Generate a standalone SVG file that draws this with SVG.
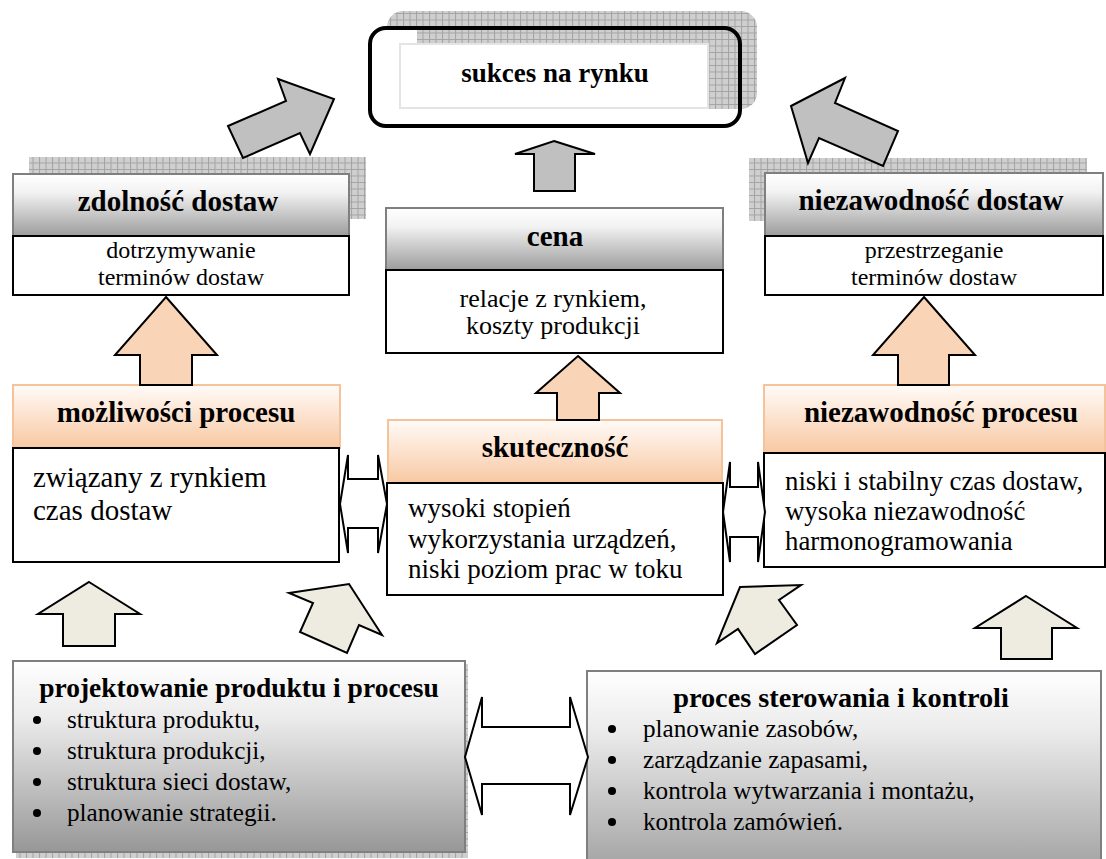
<svg xmlns="http://www.w3.org/2000/svg" width="1106" height="859" viewBox="0 0 1106 859">
<defs>
<pattern id="grid" width="6.5" height="6.5" patternUnits="userSpaceOnUse">
<rect width="6.5" height="6.5" fill="#cfcfcf"/>
<path d="M0 0.5H6.5M0.5 0V6.5" stroke="#a3a3a3" stroke-width="1"/>
</pattern>
<linearGradient id="gHead" x1="0" y1="0" x2="0" y2="1">
<stop offset="0" stop-color="#ffffff"/><stop offset="0.3" stop-color="#f2f2f2"/><stop offset="1" stop-color="#9c9c9c"/>
</linearGradient>
<linearGradient id="oHead" x1="0" y1="0" x2="0" y2="1">
<stop offset="0" stop-color="#fffbf8"/><stop offset="0.35" stop-color="#fde9da"/><stop offset="1" stop-color="#f8c8a2"/>
</linearGradient>
<linearGradient id="bBox" x1="0" y1="0" x2="0" y2="1">
<stop offset="0" stop-color="#ffffff"/><stop offset="0.3" stop-color="#ebebeb"/><stop offset="1" stop-color="#979797"/>
</linearGradient>
<linearGradient id="bBox2" x1="0" y1="0" x2="0" y2="1">
<stop offset="0" stop-color="#ffffff"/><stop offset="0.3" stop-color="#ebebeb"/><stop offset="1" stop-color="#a2a2a2"/>
</linearGradient>
</defs>
<style>
.hd{font-family:"Liberation Serif","Times New Roman",serif;font-weight:bold;font-size:29px;fill:#000;text-anchor:middle}
.bd{font-family:"Liberation Serif","Times New Roman",serif;font-size:26px;fill:#000}
.bl{font-family:"Liberation Serif","Times New Roman",serif;font-size:25.2px;fill:#000}
.bt{font-family:"Liberation Serif","Times New Roman",serif;font-weight:bold;font-size:27.5px;fill:#000;text-anchor:middle}
.c{text-anchor:middle}
.ghd{fill:url(#gHead);stroke:#7f7f7f;stroke-width:2}
.ohd{fill:url(#oHead);stroke:#f5c39b;stroke-width:2}
.body{fill:#fff;stroke:#000;stroke-width:2}
.sh{fill:url(#grid)}
.ga{fill:#c0c0c0;stroke:#000;stroke-width:2;stroke-linejoin:miter}
.oa{fill:#fad4b6;stroke:#000;stroke-width:2}
.ba{fill:#eeece1;stroke:#000;stroke-width:2}
.da{fill:#fff;stroke:#000;stroke-width:2}
</style>

<g id="sukces">
<rect x="387" y="11" width="370" height="98" rx="16" class="sh"/>
<rect x="370" y="28" width="370" height="98" rx="16" fill="#fff"/>
<rect x="417" y="30" width="321" height="79" class="sh"/>
<rect x="370" y="28" width="370" height="98" rx="16" fill="none" stroke="#000" stroke-width="4"/>
<rect x="400" y="44" width="308" height="64" fill="#fff" stroke="#e4e4e4" stroke-width="2"/>
<text x="555" y="82" class="hd" style="font-size:27px">sukces na rynku</text>
</g>

<g id="zdolnosc">
<rect x="29" y="157" width="337" height="62" class="sh"/>
<rect x="13" y="174" width="336" height="62" class="ghd"/>
<text x="178" y="211" class="hd">zdolność dostaw</text>
<rect x="13" y="236" width="336" height="59" class="body"/>
<text class="bd c" style="font-size:24px"><tspan x="181" y="258">dotrzymywanie</tspan><tspan x="181" y="285">terminów dostaw</tspan></text>
</g>

<g id="cena">
<rect x="386" y="208" width="337" height="62" class="ghd"/>
<text x="555" y="246" class="hd">cena</text>
<rect x="386" y="270" width="337" height="83" class="body"/>
<text class="bd c"><tspan x="553" y="307">relacje z rynkiem,</tspan><tspan x="553" y="334">koszty produkcji</tspan></text>
</g>

<g id="niezawodnosc-dostaw">
<rect x="749" y="158" width="338" height="63" class="sh"/>
<rect x="765" y="173" width="338" height="63" class="ghd"/>
<text x="931" y="210" class="hd">niezawodność dostaw</text>
<rect x="765" y="236" width="338" height="59" class="body"/>
<text class="bd c" style="font-size:24px"><tspan x="934" y="258">przestrzeganie</tspan><tspan x="934" y="285">terminów dostaw</tspan></text>
</g>

<g id="mozliwosci">
<rect x="13" y="385" width="327" height="63" class="ohd"/>
<text x="176" y="422" class="hd">możliwości procesu</text>
<rect x="13" y="448" width="326" height="114" class="body"/>
<text class="bd" style="font-size:29px"><tspan x="33" y="487">związany z rynkiem</tspan><tspan x="33" y="520">czas dostaw</tspan></text>
</g>

<g id="skutecznosc">
<rect x="388" y="420" width="334" height="63" class="ohd"/>
<text x="555" y="457" class="hd">skuteczność</text>
<rect x="387" y="483" width="336" height="112" class="body"/>
<text class="bd" style="font-size:27px"><tspan x="408" y="517">wysoki stopień</tspan><tspan x="408" y="548">wykorzystania urządzeń,</tspan><tspan x="408" y="578">niski poziom prac w toku</tspan></text>
</g>

<g id="niezawodnosc-procesu">
<rect x="764" y="385" width="341" height="68" class="ohd"/>
<text x="941" y="422" class="hd">niezawodność procesu</text>
<rect x="764" y="453" width="341" height="114" class="body"/>
<text class="bd" style="font-size:26.8px"><tspan x="785" y="490">niski i stabilny czas dostaw,</tspan><tspan x="785" y="520">wysoka niezawodność</tspan><tspan x="785" y="550">harmonogramowania</tspan></text>
</g>

<g id="projektowanie">
<rect x="16" y="664" width="452" height="194" class="sh"/>
<rect x="13" y="661" width="452" height="191" fill="url(#bBox)" stroke="#7f7f7f" stroke-width="2"/>
<text x="239" y="697" class="bt">projektowanie produktu i procesu</text>
<g class="bl">
<circle cx="37" cy="720" r="4"/><text x="67" y="728">struktura produktu,</text>
<circle cx="37" cy="751" r="4"/><text x="67" y="759">struktura produkcji,</text>
<circle cx="37" cy="782" r="4"/><text x="67" y="790">struktura sieci dostaw,</text>
<circle cx="37" cy="813" r="4"/><text x="67" y="821">planowanie strategii.</text>
</g>
</g>

<g id="sterowanie">
<rect x="587" y="671" width="514" height="200" fill="url(#bBox2)" stroke="#7f7f7f" stroke-width="2"/>
<text x="841" y="707" class="bt" style="font-size:28.3px">proces sterowania i kontroli</text>
<g class="bl">
<circle cx="612" cy="729" r="4"/><text x="643" y="737">planowanie zasobów,</text>
<circle cx="612" cy="760" r="4"/><text x="643" y="768">zarządzanie zapasami,</text>
<circle cx="612" cy="791" r="4"/><text x="643" y="799">kontrola wytwarzania i montażu,</text>
<circle cx="612" cy="822" r="4"/><text x="643" y="830">kontrola zamówień.</text>
</g>
</g>

<g id="connectors">
<polygon class="ga" points="228,126 286,101 278,79 334,99 310,154 300,133 243,158"/>
<polygon class="ga" points="791,106 845,78 835,103 898,131 883,166 819,138 808,163"/>
<polygon class="ga" points="554,141 595,154 575,154 575,191 534,191 534,154 515,154"/>
<polygon class="oa" points="166,297 217,355 192,355 192,385 140,385 140,355 115,355"/>
<polygon class="oa" points="578,356 620,393 599,393 599,420 557,420 557,393 536,393"/>
<polygon class="oa" points="924,297 975,355 949,355 949,385 898,385 898,355 873,355"/>
<polygon class="da" points="340,504 348,455 348,479 378,479 378,455 387,504 378,553 378,528 348,528 348,553"/>
<polygon class="da" points="723,512 730,462 730,487 758,487 758,462 765,512 758,562 758,537 730,537 730,562"/>
<polygon class="da" points="465,757 482,697 482,727 570,727 570,697 588,757 570,815 570,784 482,784 482,815"/>
<polygon class="ba" points="89,582 140,614 115,614 115,646 63,646 63,614 38,614"/>
<polygon class="ba" points="289,593 349,584 382,635 359,625 347,653 300,632 313,603"/>
<polygon class="ba" points="740,587 801,585 779,600 797,625 755,654 738,629 717,643"/>
<polygon class="ba" points="1026,596 1077,628 1052,628 1052,659 1001,659 1001,628 975,628"/>
</g>
</svg>
